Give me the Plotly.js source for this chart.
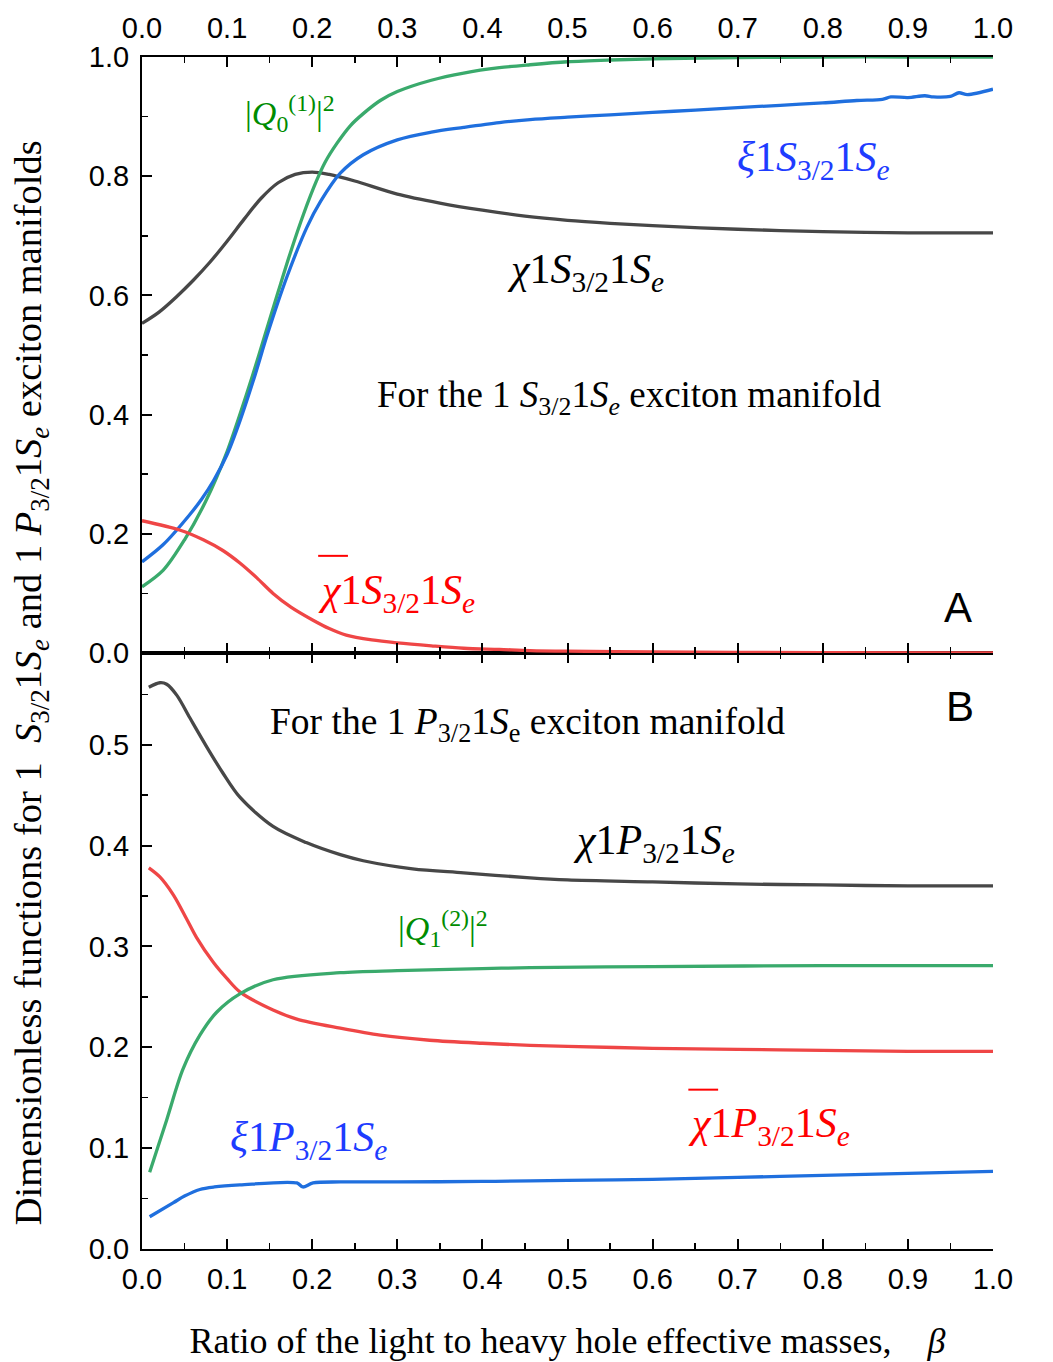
<!DOCTYPE html>
<html><head><meta charset="utf-8">
<script src="https://cdn.plot.ly/plotly-3.0.1.min.js"></script>
<style>body{margin:0;background:#fff}</style>
</head><body><div id="chart" style="width:1053px;height:1362px"></div>
<script>
// ---------- Panel A: 1S3/2 1Se exciton manifold ----------
const aChiX   = [0, 0.02, 0.04, 0.06, 0.08, 0.10, 0.12, 0.14, 0.16, 0.18, 0.20, 0.22, 0.25, 0.30, 0.35, 0.40, 0.45, 0.50, 0.55, 0.60, 0.70, 0.80, 0.90, 1.00];
const aChiY   = [0.553, 0.572, 0.597, 0.625, 0.656, 0.691, 0.728, 0.763, 0.789, 0.803, 0.807, 0.803, 0.792, 0.770, 0.755, 0.743, 0.733, 0.726, 0.721, 0.717, 0.711, 0.707, 0.705, 0.705];

const aQX     = [0, 0.025, 0.05, 0.075, 0.10, 0.115, 0.13, 0.142, 0.16, 0.174, 0.19, 0.205, 0.215, 0.229, 0.245, 0.26, 0.28, 0.30, 0.34, 0.378, 0.42, 0.456, 0.50, 0.55, 0.60, 0.70, 0.80, 0.90, 1.00];
const aQY     = [0.111, 0.139, 0.19, 0.255, 0.338, 0.400, 0.466, 0.522, 0.606, 0.670, 0.737, 0.792, 0.823, 0.855, 0.885, 0.905, 0.927, 0.942, 0.961, 0.973, 0.982, 0.987, 0.992, 0.995, 0.997, 0.999, 1.0, 1.0, 1.0];

const aXiX    = [0, 0.025, 0.056, 0.07, 0.084, 0.10, 0.115, 0.133, 0.147, 0.17, 0.194, 0.21, 0.233, 0.26, 0.30, 0.34, 0.378, 0.42, 0.456, 0.50, 0.55, 0.60, 0.65, 0.70, 0.75, 0.80, 0.84, 0.87, 0.88, 0.90, 0.92, 0.93, 0.95, 0.96, 0.97, 1.00];
const aXiY    = [0.153, 0.182, 0.232, 0.258, 0.289, 0.333, 0.389, 0.467, 0.533, 0.630, 0.715, 0.758, 0.805, 0.836, 0.861, 0.874, 0.882, 0.890, 0.895, 0.899, 0.903, 0.907, 0.911, 0.915, 0.919, 0.923, 0.927, 0.929, 0.933, 0.932, 0.935, 0.933, 0.934, 0.940, 0.937, 0.946];

const aChiBarX = [0, 0.045, 0.072, 0.095, 0.115, 0.135, 0.154, 0.175, 0.201, 0.22, 0.24, 0.27, 0.30, 0.34, 0.378, 0.42, 0.456, 0.50, 0.60, 0.70, 0.80, 1.00];
const aChiBarY = [0.222, 0.206, 0.190, 0.172, 0.151, 0.126, 0.100, 0.077, 0.055, 0.041, 0.030, 0.022, 0.017, 0.012, 0.008, 0.006, 0.004, 0.003, 0.002, 0.001, 0.0005, 0.0003];

// ---------- Panel B: 1P3/2 1Se exciton manifold ----------
const bChiX   = [0.008, 0.021, 0.029, 0.041, 0.056, 0.076, 0.095, 0.115, 0.154, 0.193, 0.233, 0.26, 0.318, 0.378, 0.456, 0.50, 0.60, 0.70, 0.80, 0.90, 1.00];
const bChiY   = [0.557, 0.5615, 0.560, 0.549, 0.527, 0.498, 0.472, 0.448, 0.419, 0.403, 0.391, 0.385, 0.377, 0.373, 0.368, 0.366, 0.364, 0.362, 0.361, 0.360, 0.360];

const bChiBarX = [0.008, 0.021, 0.037, 0.052, 0.064, 0.084, 0.10, 0.115, 0.154, 0.182, 0.233, 0.28, 0.338, 0.40, 0.456, 0.50, 0.60, 0.70, 0.80, 0.90, 1.00];
const bChiBarY = [0.378, 0.369, 0.351, 0.328, 0.309, 0.284, 0.268, 0.255, 0.237, 0.228, 0.219, 0.212, 0.207, 0.204, 0.202, 0.201, 0.199, 0.198, 0.197, 0.196, 0.196];

const bQX     = [0.009, 0.029, 0.048, 0.068, 0.088, 0.115, 0.154, 0.233, 0.30, 0.40, 0.456, 0.60, 0.80, 1.00];
const bQY     = [0.076, 0.128, 0.178, 0.212, 0.235, 0.253, 0.267, 0.274, 0.276, 0.278, 0.279, 0.280, 0.281, 0.281];

const bXiX    = [0.009, 0.037, 0.05, 0.068, 0.085, 0.115, 0.182, 0.189, 0.201, 0.233, 0.30, 0.40, 0.456, 0.50, 0.60, 0.70, 0.80, 0.90, 1.00];
const bXiY    = [0.032, 0.046, 0.0525, 0.059, 0.0615, 0.0635, 0.0655, 0.0615, 0.0655, 0.0665, 0.0665, 0.067, 0.0675, 0.068, 0.069, 0.071, 0.073, 0.075, 0.077];

const xTicks = [0, 0.1, 0.2, 0.3, 0.4, 0.5, 0.6, 0.7, 0.8, 0.9, 1.0];

const cBlack = '#474747', cGreen = '#3aaa6c', cBlue = '#1f6fde', cRed = '#ef4646';
const LW = 3.3;

function line(x, y, color, xa, ya) {
  return {x: x, y: y, type: 'scatter', mode: 'lines', xaxis: xa, yaxis: ya,
          line: {color: color, width: LW, shape: 'spline', smoothing: 0.9},
          hoverinfo: 'skip', showlegend: false};
}

const data = [
  line(aChiX, aChiY, cBlack, 'x2', 'y2'),
  line(aQX, aQY, cGreen, 'x2', 'y2'),
  line(aXiX, aXiY, cBlue, 'x2', 'y2'),
  line(aChiBarX, aChiBarY, cRed, 'x2', 'y2'),
  line(bChiX, bChiY, cBlack, 'x', 'y'),
  line(bChiBarX, bChiBarY, cRed, 'x', 'y'),
  line(bQX, bQY, cGreen, 'x', 'y'),
  line(bXiX, bXiY, cBlue, 'x', 'y')
];

const tickFont = {family: 'Liberation Sans, Arial, sans-serif', size: 29, color: '#000'};
const serif = 'Liberation Serif, Times New Roman, serif';
const sans = 'Liberation Sans, Arial, sans-serif';

const baseX = {range: [0, 1], tickvals: xTicks, tickformat: '.1f', ticks: 'inside', ticklen: 10, tickwidth: 2,
  tickcolor: '#000', showline: true, linewidth: 2, linecolor: '#000', showgrid: false, zeroline: false,
  minor: {dtick: 0.05, ticks: 'inside', ticklen: 6, tickwidth: 1.5, tickcolor: '#000', showgrid: false},
  tickfont: tickFont, fixedrange: true};

function yax(extra) {
  return Object.assign({tickformat: '.1f', ticks: 'inside', ticklen: 10, tickwidth: 2, tickcolor: '#000',
    showline: true, linewidth: 2, linecolor: '#000', showgrid: false, zeroline: false, tickfont: tickFont,
    ticklabelstandoff: 5}, extra);
}

const ann = (x, y, xr, yr, text, color, size, fam, xanchor) => ({x: x, y: y, xref: xr, yref: yr, text: text, showarrow: false,
  font: {family: fam || serif, size: size || 32, color: color}, xanchor: xanchor || 'left', yanchor: 'middle'});

const minorB = {dtick: 0.05, ticks: 'inside', ticklen: 6, tickwidth: 1.5, tickcolor: '#000', showgrid: false};
const minorA = {dtick: 0.1, ticks: 'inside', ticklen: 6, tickwidth: 1.5, tickcolor: '#000', showgrid: false};

const layout = {
  width: 1053, height: 1362,
  margin: {l: 142, r: 60, t: 57, b: 113},
  paper_bgcolor: '#fff', plot_bgcolor: '#fff',
  showlegend: false,
  xaxis: Object.assign({}, baseX, {domain: [0, 1], anchor: 'y', mirror: 'ticks', ticklabelstandoff: 3,
    title: {text: 'Ratio of the light to heavy hole effective masses,    <i>β</i>',
            font: {family: serif, size: 36, color: '#000'}, standoff: 34}}),
  xaxis2: Object.assign({}, baseX, {domain: [0, 1], anchor: 'y2', side: 'top', mirror: 'ticks', ticklabelstandoff: 5}),
  yaxis: yax({domain: [0, 0.5], anchor: 'x', range: [0, 0.591], tickvals: [0, 0.1, 0.2, 0.3, 0.4, 0.5], minor: minorB}),
  yaxis3: yax({overlaying: 'y', anchor: 'x', side: 'right', range: [0, 0.591], tickvals: [0, 0.1, 0.2, 0.3, 0.4, 0.5], minor: minorB}),
  yaxis2: yax({domain: [0.5, 1], anchor: 'x2', range: [0, 1], tickvals: [0, 0.2, 0.4, 0.6, 0.8, 1.0], minor: minorA}),
  yaxis4: yax({overlaying: 'y2', anchor: 'x2', side: 'right', range: [0, 1], tickvals: [0, 0.2, 0.4, 0.6, 0.8, 1.0], minor: minorA}),
  annotations: [
    // panel A
    ann(0.1187, 0.905, 'x2', 'y2', '|<i>Q</i><sub>0</sub><sup>(1)</sup>|<sup>2</sup>', 'rgb(0,140,0)', 34),
    ann(0.697, 0.827, 'x2', 'y2', '<i>ξ</i>1<i>S</i><sub>3/2</sub>1<i>S</i><sub><i>e</i></sub>', 'rgb(30,60,255)', 42),
    ann(0.4266, 0.639, 'x2', 'y2', '<i>χ</i>1<i>S</i><sub>3/2</sub>1<i>S</i><sub><i>e</i></sub>', '#000', 42),
    ann(0.2738, 0.428, 'x2', 'y2', 'For the 1 <i>S</i><sub>3/2</sub>1<i>S</i><sub><i>e</i></sub> exciton manifold', '#000', 37),
    ann(0.2045, 0.100, 'x2', 'y2', '<i>χ</i>1<i>S</i><sub>3/2</sub>1<i>S</i><sub><i>e</i></sub>', 'rgb(255,0,0)', 42),
    ann(0.959, 0.076, 'x2', 'y2', 'A', '#000', 42, sans, 'center'),
    // panel B
    ann(0.961, 0.538, 'x', 'y', 'B', '#000', 42, sans, 'center'),
    ann(0.148, 0.520, 'x', 'y', 'For the 1 <i>P</i><sub>3/2</sub>1<i>S</i><sub>e</sub> exciton manifold', '#000', 37.5),
    ann(0.504, 0.403, 'x', 'y', '<i>χ</i>1<i>P</i><sub>3/2</sub>1<i>S</i><sub><i>e</i></sub>', '#000', 42),
    ann(0.2985, 0.318, 'x', 'y', '|<i>Q</i><sub>1</sub><sup>(2)</sup>|<sup>2</sup>', 'rgb(0,140,0)', 34),
    ann(0.101, 0.108, 'x', 'y', '<i>ξ</i>1<i>P</i><sub>3/2</sub>1<i>S</i><sub><i>e</i></sub>', 'rgb(30,60,255)', 42),
    ann(0.639, 0.122, 'x', 'y', '<i>χ</i>1<i>P</i><sub>3/2</sub>1<i>S</i><sub><i>e</i></sub>', 'rgb(255,0,0)', 42),
    // y title
    {x: -0.131, y: 0.475, xref: 'paper', yref: 'paper', textangle: -90, showarrow: false,
     text: 'Dimensionless functions for 1  <i>S</i><sub>3/2</sub>1<i>S</i><sub><i>e</i></sub> and 1 <i>P</i><sub>3/2</sub>1<i>S</i><sub><i>e</i></sub> exciton manifolds',
     font: {family: serif, size: 38.5, color: '#000'}, xanchor: 'center', yanchor: 'middle'}
  ],
  shapes: [
    {type: 'line', xref: 'x2', yref: 'y2', x0: 0.207, x1: 0.242, y0: 0.163, y1: 0.163, line: {color: 'rgb(255,0,0)', width: 2}},
    {type: 'line', xref: 'x', yref: 'y', x0: 0.642, x1: 0.677, y0: 0.158, y1: 0.158, line: {color: 'rgb(255,0,0)', width: 2}}
  ]
};

Plotly.newPlot('chart', data, layout, {displayModeBar: false, staticPlot: true});
</script></body></html>
